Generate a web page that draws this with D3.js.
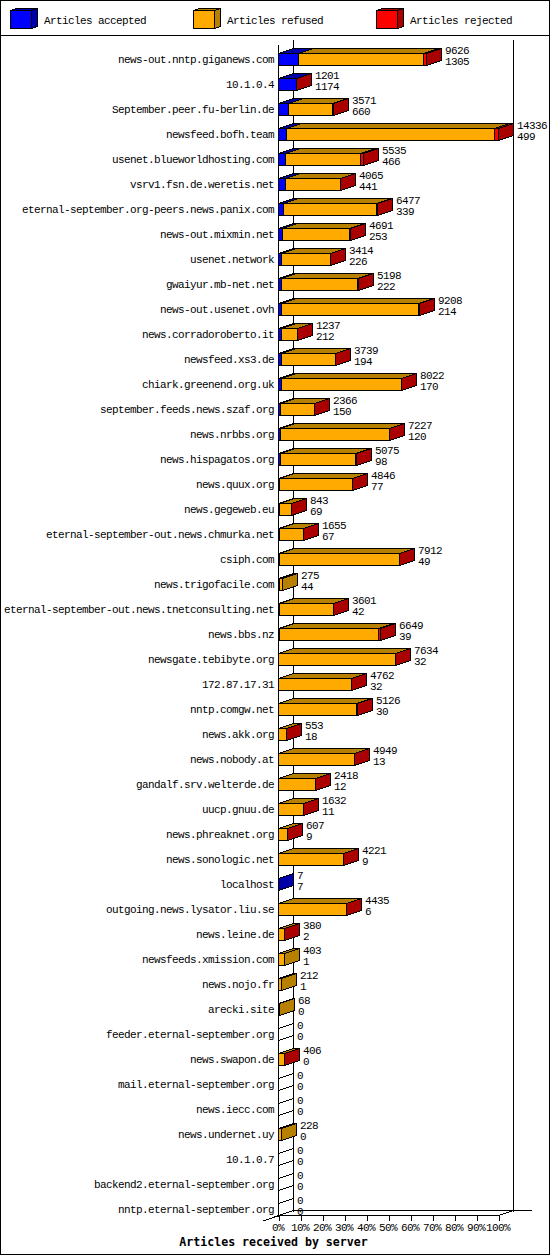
<!DOCTYPE html>
<html><head><meta charset="utf-8">
<script src="https://cdn.jsdelivr.net/npm/d3@7"></script>
<style>
html,body{margin:0;padding:0;background:#fff}
svg{display:block}
text{font-family:"Liberation Mono",monospace;font-size:11px;letter-spacing:-0.6px;fill:#000}
.bold{font-family:"DejaVu Sans Mono",monospace;font-weight:bold;font-size:11.6px;letter-spacing:0}
</style></head><body><svg id="c" width="550" height="1255"></svg>
<script>
const categories=["news-out.nntp.giganews.com","10.1.0.4","September.peer.fu-berlin.de","newsfeed.bofh.team","usenet.blueworldhosting.com","vsrv1.fsn.de.weretis.net","eternal-september.org-peers.news.panix.com","news-out.mixmin.net","usenet.network","gwaiyur.mb-net.net","news-out.usenet.ovh","news.corradoroberto.it","newsfeed.xs3.de","chiark.greenend.org.uk","september.feeds.news.szaf.org","news.nrbbs.org","news.hispagatos.org","news.quux.org","news.gegeweb.eu","eternal-september-out.news.chmurka.net","csiph.com","news.trigofacile.com","eternal-september-out.news.tnetconsulting.net","news.bbs.nz","newsgate.tebibyte.org","172.87.17.31","nntp.comgw.net","news.akk.org","news.nobody.at","gandalf.srv.welterde.de","uucp.gnuu.de","news.phreaknet.org","news.sonologic.net","localhost","outgoing.news.lysator.liu.se","news.leine.de","newsfeeds.xmission.com","news.nojo.fr","arecki.site","feeder.eternal-september.org","news.swapon.de","mail.eternal-september.org","news.iecc.com","news.undernet.uy","10.1.0.7","backend2.eternal-september.org","nntp.eternal-september.org"];
const totals=[9626,1201,3571,14336,5535,4065,6477,4691,3414,5198,9208,1237,3739,8022,2366,7227,5075,4846,843,1655,7912,275,3601,6649,7634,4762,5126,553,4949,2418,1632,607,4221,7,4435,380,403,212,68,0,406,0,0,228,0,0,0];
const accepted=[1305,1174,660,499,466,441,339,253,226,222,214,212,194,170,150,120,98,77,69,67,49,44,42,39,32,32,30,18,13,12,11,9,9,7,6,2,1,1,0,0,0,0,0,0,0,0,0];
const rejected=[190,20,30,290,190,40,110,90,40,30,100,10,30,35,20,20,30,25,5,10,30,0,30,130,25,25,20,3,10,15,10,3,10,0,15,2,0,0,0,0,1,0,0,0,0,0,0];
const legendLabels=["Articles accepted","Articles refused","Articles rejected"];
const tickValues=[0,10,20,30,40,50,60,70,80,90,100];
const title="Articles received by server";

const faceColors=["#0000ff","#ffaa00","#ff0000"];
const darkColors=["#0000aa","#b88000","#aa0000"];
const dx=15,dy=5;
const svg=d3.select("#c");
const snap=v=>Math.round(v-.5)+.5;
const x=d3.scaleLinear().domain([0,d3.max(totals)]).range([278.5,498.5]);
const pct=d3.scaleLinear().domain([0,100]).range([278.5,498.5]);
const y=d3.scalePoint().domain(categories).range([59.5,1209.5]);

// frame
svg.append("rect").attr("x",.5).attr("y",.5).attr("width",549).attr("height",1254)
  .attr("fill","#fff").attr("stroke","#000").attr("shape-rendering","crispEdges");
const line=(x1,y1,x2,y2)=>svg.append("line").attr("x1",x1).attr("y1",y1).attr("x2",x2).attr("y2",y2)
  .attr("stroke","#000").attr("shape-rendering","crispEdges");
line(0,35.5,550,35.5);

// legend
const legendX=[10.5,193.5,376.5];
const lg=svg.append("g").attr("shape-rendering","crispEdges");
legendLabels.forEach((t,i)=>{
  const a=legendX[i],b=a+21,t0=10.5,b0=28.5,ox=6,oy=2;
  const poly=(pts,f)=>lg.append("polygon").attr("points",pts.join(" ")).attr("fill",f).attr("stroke","#000");
  poly([[a,t0],[b,t0],[b+ox,t0-oy],[a+ox,t0-oy]],darkColors[i]);
  poly([[b,t0],[b+ox,t0-oy],[b+ox,b0-oy],[b,b0]],darkColors[i]);
  lg.append("rect").attr("x",a).attr("y",t0).attr("width",21).attr("height",18).attr("fill",faceColors[i]).attr("stroke","#000");
  svg.append("text").attr("x",Math.floor(a)+34).attr("y",23.5).text(t);
});

// walls
line(278.5,45,278.5,1216.5);
line(293.5,40,293.5,1211.5);
line(513.5,40,513.5,1211.5);
line(293.5,1210.5,532,1210.5);
line(263,1221,293.5,1210.5);
line(278.5,1215.5,498.5,1215.5);
line(498.5,1215.5,513.5,1210.5);

// x axis
const axis=d3.axisBottom(pct).tickValues(tickValues).tickFormat(d=>d+"%").tickSize(5).tickPadding(3);
const ag=svg.append("g").attr("transform","translate(-1,1215.5)").call(axis);
ag.select(".domain").remove();
ag.selectAll("line").attr("stroke","#000").attr("shape-rendering","crispEdges").attr("transform","translate(1,0)");
ag.attr("font-family",null).attr("font-size",null);

// category labels
const cg=svg.append("g").attr("transform","translate(278,-1)").call(d3.axisLeft(y).tickSize(0).tickPadding(4));
cg.select(".domain").remove();
cg.attr("font-family",null).attr("font-size",null);

// bars
const rows=categories.map((c,i)=>({c,acc:accepted[i],ref:Math.max(0,totals[i]-accepted[i]-rejected[i]),rej:rejected[i],total:totals[i],accLabel:accepted[i]}));
const series=d3.stack().keys(["acc","ref","rej"])(rows);
const barG=svg.append("g").attr("shape-rendering","crispEdges");
rows.forEach((r,i)=>{
  const g=barG.append("g");
  const t=y(r.c)-6,b=y(r.c)+6;
  if(r.total===0){
    g.append("polygon").attr("points",[[278.5,t],[293.5,t-dy],[293.5,b-dy],[278.5,b]].join(" ")).attr("fill","none").attr("stroke","#000");
  }
  series.forEach((s,k)=>{
    if(s[i][1]-s[i][0]<=0)return;
    const a=snap(x(s[i][0])),e=snap(x(s[i][1]));
    g.append("polygon").attr("points",[[a,t],[e,t],[e+dx,t-dy],[a+dx,t-dy]].join(" ")).attr("fill",darkColors[k]).attr("stroke","#000");
    g.append("polygon").attr("points",[[e,t],[e+dx,t-dy],[e+dx,b-dy],[e,b]].join(" ")).attr("fill",darkColors[k]).attr("stroke","#000");
    g.append("rect").attr("x",a).attr("y",t).attr("width",e-a).attr("height",b-t).attr("fill",faceColors[k]).attr("stroke","#000");
  });
  const tx=Math.floor(snap(x(r.total)))+dx+4;
  svg.append("text").attr("x",tx).attr("y",Math.round(y(r.c)-5.5)).text(r.total);
  svg.append("text").attr("x",tx).attr("y",Math.round(y(r.c)+5.5)).text(r.accLabel);
});

svg.append("text").attr("class","bold").attr("x",273.5).attr("y",1246).attr("text-anchor","middle").text(title);
</script></body></html>
